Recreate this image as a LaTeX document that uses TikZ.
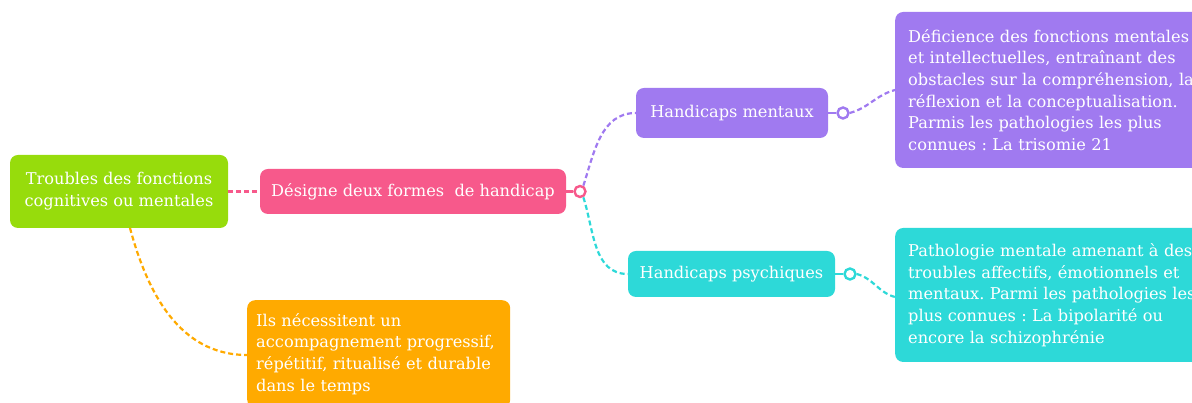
\documentclass[tikz,border=0pt]{standalone}
\usepackage{fontspec}
\setmainfont{DejaVu Serif}
\frenchspacing
\definecolor{vert}{HTML}{97DC0C}
\definecolor{rose}{HTML}{F7598B}
\definecolor{violet}{HTML}{A07AF0}
\definecolor{cyan}{HTML}{2DD9D8}
\definecolor{orange}{HTML}{FFAA00}
\begin{document}
\begin{tikzpicture}[x=1pt, y=1pt,
  box/.style={rectangle, rounded corners=8pt, text=white, inner sep=0pt, align=center,
    font=\fontsize{16.2}{21.7}\selectfont},
  note/.style={rectangle, rounded corners=8pt, text=white, inner xsep=13pt, inner ysep=10pt,
    align=left, anchor=west, text width=300pt, font=\fontsize{16.2}{21.7}\selectfont},
  link/.style={dash pattern=on 5pt off 3pt, line width=2.2pt},
  knob/.style={circle, draw, fill=white, line width=2.4pt, minimum size=11pt, inner sep=0pt}]
\clip (0,0) rectangle (1192,403);
\node [box, fill=vert, minimum width=218pt, minimum height=73pt] (troubles) at (119,211.5)
  {Troubles des fonctions\\cognitives ou mentales};
\node [box, fill=rose, minimum width=306pt, minimum height=45pt] (formes) at (413,211.5)
  {Désigne deux formes\ \ de handicap};
\node [box, fill=violet, minimum width=192pt, minimum height=50pt] (mentaux) at (732,290)
  {Handicaps mentaux};
\node [box, fill=cyan, minimum width=207pt, minimum height=46pt] (psychiques) at (731.5,129)
  {Handicaps psychiques};
\node [note, fill=violet, minimum height=156pt] (deficience) at (895,313)
  {Déficience des fonctions mentales\\et intellectuelles, entraînant des\\obstacles sur la compréhension, la\\réflexion et la conceptualisation.\\Parmis les pathologies les plus\\connues : La trisomie 21};
\node [note, fill=cyan, minimum height=134pt] (pathologie) at (895,108)
  {Pathologie mentale amenant à des\\troubles affectifs, émotionnels et\\mentaux. Parmi les pathologies les\\plus connues : La bipolarité ou\\encore la schizophrénie};
\node [note, fill=orange, anchor=north west, inner xsep=9pt, inner ysep=13pt, text width=245pt] (accomp) at (247,103)
  {Ils nécessitent un\\accompagnement progressif,\\répétitif, ritualisé et durable\\dans le temps};
\node [knob, draw=rose] (k1) at (580,211.5) {};
\node [knob, draw=violet] (k2) at (843,290) {};
\node [knob, draw=cyan] (k3) at (850,129) {};
% liens
\draw [link, rose] (troubles.east) -- (formes.west);
\draw [line width=2.2pt, rose] (formes.east) -- (k1.west);
\draw [link, violet] (k1.60) to[out=72, in=180] (mentaux.west);
\draw [link, cyan] (k1.-60) to[out=-72, in=180] (psychiques.west);
\draw [line width=2.2pt, violet] (mentaux.east) -- (k2.west);
\draw [line width=2.2pt, cyan] (psychiques.east) -- (k3.west);
\draw [link, violet] (k2.east) to[out=15, in=195] (deficience.west |- 0,313);
\draw [link, cyan] (k3.east) to[out=-15, in=165] (pathologie.west |- 0,106);
\draw [link, orange] (130,175) to[out=-75, in=180] (accomp.west |- 0,48);
\end{tikzpicture}
\end{document}
